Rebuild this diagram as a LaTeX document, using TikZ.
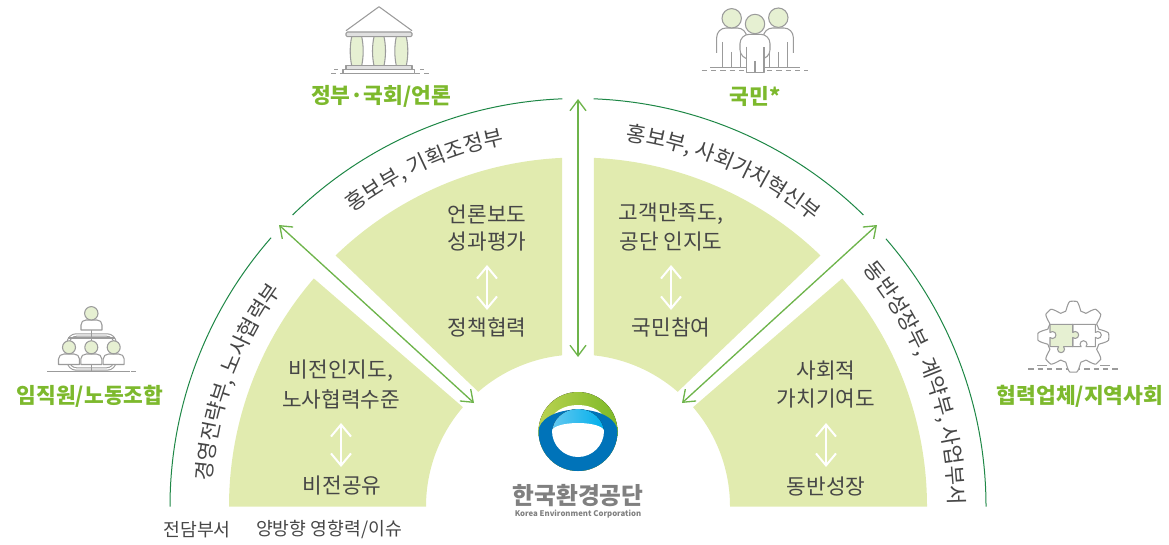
\documentclass[tikz,border=0pt]{standalone}
\usepackage{fontspec}
\setmainfont{Noto Sans CJK KR}
\usetikzlibrary{arrows.meta,decorations.text}
\definecolor{sectorGreen}{RGB}{225,235,175}
\definecolor{arcGreen}{RGB}{30,135,70}
\definecolor{arrowGreen}{RGB}{110,180,75}
\definecolor{labelGreen}{RGB}{125,185,45}
\definecolor{textGray}{RGB}{70,70,70}
\definecolor{iconGray}{RGB}{155,155,155}
\definecolor{iconGreen}{RGB}{230,240,210}
\definecolor{logoGreenA}{RGB}{185,210,80}
\definecolor{logoGreenB}{RGB}{125,185,40}
\definecolor{logoBlue}{RGB}{0,115,185}
\definecolor{logoCyanA}{RGB}{100,200,240}
\definecolor{logoCyanB}{RGB}{0,175,235}
\newcommand{\arcfont}{\fontsize{16pt}{18pt}\selectfont\color{textGray}}
\tikzset{
  sector/.style={fill=sectorGreen,draw=none},
  outer arc/.style={draw=arcGreen,line width=0.75pt},
  link arrow/.style={draw=arrowGreen,line width=1pt,{Straight Barb[length=8pt,width=12pt]}-{Straight Barb[length=8pt,width=12pt]}},
  white arrow/.style={draw=white,line width=1.5pt,{Straight Barb[length=9pt,width=15pt]}-{Straight Barb[length=9pt,width=15pt]}},
  body text/.style={inner sep=0.75pt,text=textGray,font=\fontsize{16pt}{18pt}\selectfont},
  note text/.style={inner sep=0.75pt,text=textGray,font=\fontsize{13.7pt}{15pt}\selectfont},
  group label/.style={inner sep=0.75pt,text=labelGreen,font=\fontsize{16.1pt}{18pt}\selectfont\bfseries},
  icon/.style={draw=iconGray,line width=0.8pt,line join=round},
  icon fill/.style={icon,fill=iconGreen},
  icon blank/.style={icon,fill=white},
  ground/.style={draw=iconGray,line width=0.8pt},
  ground dash/.style={draw=iconGray,line width=0.8pt,dashed,dash pattern=on 4pt off 3pt},
}
\begin{document}
\begin{tikzpicture}[x=0.75pt,y=0.75pt,yscale=-1,xscale=1]
\useasboundingbox (0,0) rectangle (1169,545);

\begin{scope}[shift={(578,506.5)}]
%Shape: Sectors
\path [sector] (-180:349) arc [start angle=-180,end angle=-139.2,radius=349] -- (-139.2:152) arc [start angle=-139.2,end angle=-180,radius=152] -- cycle ;
\path [sector] (-134:349) arc [start angle=-134,end angle=-92.6,radius=349] -- (-96:152) arc [start angle=-96,end angle=-131,radius=152] -- cycle ;
\path [sector] (-46:349) arc [start angle=-46,end angle=-87.4,radius=349] -- (-84:152) arc [start angle=-84,end angle=-49,radius=152] -- cycle ;
\path [sector] (0:349) arc [start angle=0,end angle=-40.8,radius=349] -- (-40.8:152) arc [start angle=-40.8,end angle=0,radius=152] -- cycle ;
%Curve Lines: outer arcs
\draw [outer arc] (-180:408) arc [start angle=-180,end angle=-138.8,radius=408] ;
\draw [outer arc] (-134.4:408) arc [start angle=-134.4,end angle=-92.2,radius=408] ;
\draw [outer arc] (-87.8:408) arc [start angle=-87.8,end angle=-45.6,radius=408] ;
\draw [outer arc] (-41:408) arc [start angle=-41,end angle=0,radius=408] ;
%Curve Text: department names
\path [decorate,decoration={text along path,text align=center,text={|\arcfont|경영전략부, 노사협력부}}] (-179:367) arc [start angle=-179,end angle=-141,radius=367] ;
\path [decorate,decoration={text along path,text align=center,text={|\arcfont|홍보부, 기획조정부}}] (-134:370) arc [start angle=-134,end angle=-95,radius=370] ;
\path [decorate,decoration={text along path,text align=center,text={|\arcfont|홍보부, 사회가치혁신부}}] (-89.5:369) arc [start angle=-89.5,end angle=-43.5,radius=369] ;
\path [decorate,decoration={text along path,text align=center,text={|\arcfont|동반성장부, 계약부, 사업부서}}] (-44:371) arc [start angle=-44,end angle=4,radius=371] ;
\end{scope}

%Straight Lines: link arrows
\coordinate (topOuter) at (578,99);
\coordinate (topInner) at (578,357);
\coordinate (leftOuter) at (279,225);
\coordinate (leftInner) at (474,403);
\coordinate (rightOuter) at (877,225);
\coordinate (rightInner) at (682,403);
\draw [link arrow] (topOuter) -- (topInner) ;
\draw [link arrow] (leftOuter) -- (leftInner) ;
\draw [link arrow] (rightOuter) -- (rightInner) ;

% Text Node
\draw (341,371) node (txtVision) [body text] {비전인지도,};
\draw (341,399) node (txtLabor) [body text] {노사협력수준};
\draw (342,486) node (txtShare) [body text] {비전공유};
\draw (487,214) node (txtPress) [body text] {언론보도};
\draw (487,242) node (txtEval) [body text] {성과평가};
\draw (487,327) node (txtPolicy) [body text] {정책협력};
\draw (671,214) node (txtCustomer) [body text] {고객만족도,};
\draw (671,242) node (txtAware) [body text] {공단 인지도};
\draw (671,327) node (txtPublic) [body text] {국민참여};
\draw (826,371) node (txtSocial) [body text] {사회적};
\draw (826,399) node (txtValue) [body text] {가치기여도};
\draw (826,486) node (txtGrowth) [body text] {동반성장};
\draw (197,530) node (txtDept) [note text] {전담부서};
\draw (329,530) node (txtIssue) [note text] {양방향 영향력/이슈};
\draw (90,396) node (labelStaff) [group label] {임직원/노동조합};
\draw (381,96) node (labelGov) [group label] {정부·국회/언론};
\draw (755,96) node (labelCitizen) [group label] {국민*};
\draw (1080,396) node (labelPartner) [group label] {협력업체/지역사회};

%Straight Lines: white arrows
\draw [white arrow] (txtLabor.south |- 0,423) -- (txtLabor.south |- 0,467) ;
\draw [white arrow] (txtEval.south |- 0,265) -- (txtEval.south |- 0,310) ;
\draw [white arrow] (txtAware.south |- 0,265) -- (txtAware.south |- 0,310) ;
\draw [white arrow] (txtValue.south |- 0,423) -- (txtValue.south |- 0,467) ;

%Icon: building
\draw [icon] (346,30.7) -- (379,6.7) -- (412,30.7) ;
\draw [icon,fill=black!12,rounded corners=1pt] (346,32) rectangle (412,36.7) ;
\foreach \colx in {356.7,379,401.3} {
  \draw [icon fill] (\colx-5,36.7) .. controls (\colx-7,46) and (\colx-7,56) .. (\colx-5,65.7) -- (\colx+5,65.7) .. controls (\colx+7,56) and (\colx+7,46) .. (\colx+5,36.7) -- cycle ;
}
\draw [icon,fill=black!12] (346,65.7) rectangle (412,69.3) ;
\draw [icon,fill=white] (343,69.3) rectangle (414.7,73.3) ;
\draw [ground dash] (331,73.3) -- (343,73.3) (414.7,73.3) -- (433,73.3) ;
\draw [ground] (334,69.7) -- (338,69.7) (420,69.7) -- (424,69.7) ;

%Icon: people
\draw [ground dash] (701.7,70.7) -- (808.3,70.7) ;
\draw [ground] (710,67.3) -- (800,67.3) ;
\foreach \bodyx/\heady in {731.7/18.3,778.3/17.7} {
  \draw [icon blank,rounded corners=7pt] (\bodyx-15,53) -- (\bodyx-15,28) -- (\bodyx+15,28) -- (\bodyx+15,53) ;
  \draw [icon blank] (\bodyx-9,42) -- (\bodyx-9,67.3) -- (\bodyx+9,67.3) -- (\bodyx+9,42) ;
  \draw [icon] (\bodyx,52) -- (\bodyx,67.3) ;
  \draw [icon fill] (\bodyx,\heady) circle [radius=9.7] ;
}
\draw [icon blank,rounded corners=7pt] (740,59) -- (740,34.3) -- (770,34.3) -- (770,59) -- cycle ;
\draw [icon blank] (746.7,46.7) -- (746.7,72.7) -- (764,72.7) -- (764,46.7) ;
\draw [icon] (755,61) -- (755,72.7) ;
\draw [icon fill] (755,24) circle [radius=9.7] ;

%Icon: org chart
\draw [ground] (51,371.7) -- (130,371.7) ;
\draw [ground dash] (47.3,371.7) -- (135.7,371.7) ;
\draw [icon,double=white,double distance=1pt,rounded corners=6pt] (68.3,335) rectangle (115,369) ;
\draw [icon] (91.3,330) -- (91.3,371) ;
\draw [icon] (68.3,338) -- (115,338) ;
\foreach \bodyx in {69,91.3,113.7} {
  \draw [icon blank] (\bodyx-10.5,364.5) -- (\bodyx-10.5,359) .. controls (\bodyx-10.5,356) and (\bodyx-8,354) .. (\bodyx-5,354) -- (\bodyx+5,354) .. controls (\bodyx+8,354) and (\bodyx+10.5,356) .. (\bodyx+10.5,359) -- (\bodyx+10.5,364.5) -- cycle ;
  \draw [icon fill] (\bodyx,347.3) circle [radius=6.5] ;
}
\draw [icon blank] (81,330) -- (81,325) .. controls (81,322) and (83,320) .. (86,320) -- (97,320) .. controls (100,320) and (102,322) .. (102,325) -- (102,330) -- cycle ;
\draw [icon fill] (91.3,313.3) circle [radius=6.7] ;

%Icon: gear with puzzle
\draw [ground dash] (1028.3,369) -- (1118.3,369) ;
\draw [ground] (1037,365.3) -- (1047,365.3) (1100,365.3) -- (1110,365.3) ;
\draw [icon blank,smooth] plot [domain=0:360,samples=193] ({1073.3+(31+4.5*max(-1,min(1,1.5*cos(8*\x))))*cos(\x)},{336.7+(31+4.5*max(-1,min(1,1.5*cos(8*\x))))*sin(\x)}) -- cycle ;
\draw [icon blank] (1072.7,324.3) -- (1095.3,324.3) -- (1095.3,332.5) arc [start angle=-135,end angle=135,radius=3.5] -- (1095.3,346.7) -- (1086,346.7) arc [start angle=45,end angle=-225,radius=3.5] -- (1072.7,346.7) -- cycle ;
\draw [icon fill] (1050,324.3) -- (1072.7,324.3) -- (1072.7,332.5) arc [start angle=-135,end angle=135,radius=3.5] -- (1072.7,346.7) -- (1063.5,346.7) arc [start angle=-45,end angle=225,radius=3.5] -- (1050,346.7) -- (1050,337.5) arc [start angle=135,end angle=-135,radius=3.5] -- cycle ;

%Shape: logo
\fill [left color=logoGreenA,right color=logoGreenB] (578,431.5) circle [radius=39.5] ;
\fill [white] (578,422) ellipse [x radius=27,y radius=17] ;
\fill [logoBlue] (538.5,431.5) arc [start angle=-180,end angle=0,x radius=39.5,y radius=22] arc [start angle=0,end angle=180,radius=39.5] -- cycle ;
\fill [left color=logoCyanA,right color=logoCyanB] (552,433) arc [start angle=-180,end angle=0,x radius=26,y radius=24] -- cycle ;
\fill [white] (552,431) arc [start angle=-180,end angle=0,x radius=26,y radius=8] arc [start angle=0,end angle=180,radius=26] -- cycle ;
\draw (578,496) node (logoName) [inner sep=0pt,text=black!50,font=\fontsize{17.8pt}{20pt}\selectfont\bfseries] {한국환경공단};
\draw (578,514) node (logoSub) [inner sep=0pt,text=black!50,font=\fontsize{5.85pt}{7pt}\selectfont\bfseries] {Korea Environment Corporation};

\end{tikzpicture}
\end{document}
